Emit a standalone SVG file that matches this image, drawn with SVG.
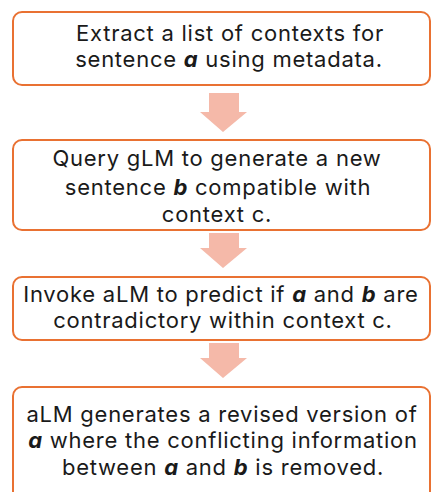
<svg xmlns="http://www.w3.org/2000/svg" width="435" height="492" viewBox="0 0 435 492">
  <style>
    .box { fill: #ffffff; stroke: #E97132; stroke-width: 2; }
    .arrow { fill: #F5B9A9; }
    .label { font-family: Inter, "Noto Sans", "Liberation Sans", sans-serif; font-size: 22px; fill: #1a1a1a; text-anchor: middle; letter-spacing: 0.75px; }
    .v { font-weight: bold; font-style: italic; }
  </style>
  <rect width="435" height="492" fill="#ffffff"/>

  <g id="connectors">
    <polygon class="arrow" points="209,93 239,93 239,112 247,112 223,132 200,112 209,112"/>
    <polygon class="arrow" points="209,233 239,233 239,248 247,248 223,268 200,248 209,248"/>
    <polygon class="arrow" points="209,343 239,343 239,358 247,358 223,378 200,358 209,358"/>
  </g>

  <g id="step-extract">
    <rect class="box" x="13" y="12" width="417" height="73" rx="9"/>
    <text class="label" x="230" y="41">Extract a list of contexts for</text>
    <text class="label" x="229" y="67">sentence <tspan class="v">a</tspan> using metadata.</text>
  </g>

  <g id="step-query">
    <rect class="box" x="13" y="140" width="417" height="90" rx="9"/>
    <text class="label" x="217" y="166">Query gLM to generate a new</text>
    <text class="label" x="218" y="195">sentence <tspan class="v">b</tspan> compatible with</text>
    <text class="label" x="217" y="222">context c.</text>
  </g>

  <g id="step-invoke">
    <rect class="box" x="13" y="277" width="417" height="63" rx="9"/>
    <text class="label" x="221" y="302">Invoke aLM to predict if <tspan class="v">a</tspan> and <tspan class="v">b</tspan> are</text>
    <text class="label" x="223" y="328">contradictory within context c.</text>
  </g>

  <g id="step-revise">
    <rect class="box" x="13" y="387" width="417" height="115" rx="9"/>
    <text class="label" x="222" y="422">aLM generates a revised version of</text>
    <text class="label" x="223" y="448"><tspan class="v">a</tspan> where the conflicting information</text>
    <text class="label" x="223" y="475">between <tspan class="v">a</tspan> and <tspan class="v">b</tspan> is removed.</text>
  </g>
</svg>
